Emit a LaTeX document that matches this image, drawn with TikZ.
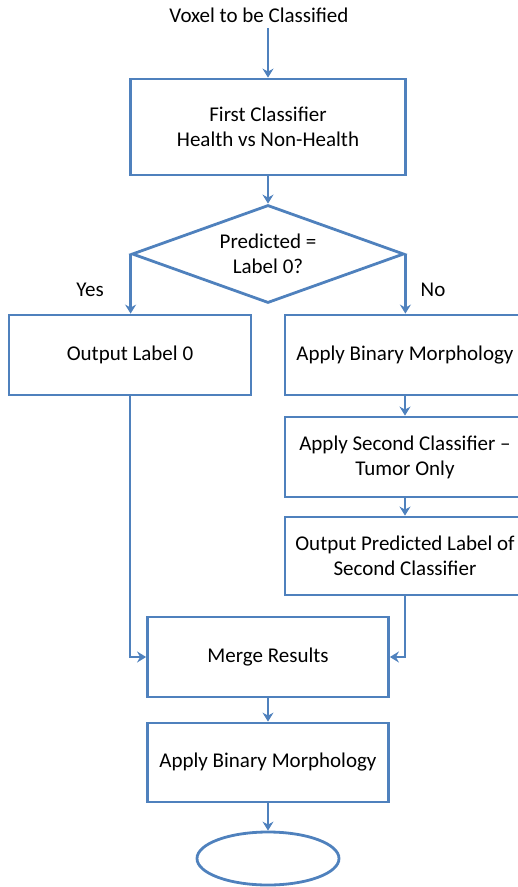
\documentclass[tikz,border=0pt]{standalone}
\usepackage{fontspec}
\setmainfont{Carlito}
\usetikzlibrary{shapes.geometric,arrows.meta}
\definecolor{flowblue}{RGB}{79,129,189}
\begin{document}
\begin{tikzpicture}[x=1pt,y=-1pt,
  txt/.style={font=\fontsize{21}{25}\selectfont,text=black},
  box/.style={txt,draw=flowblue,line width=2.8pt,rectangle,inner sep=0pt,align=center,minimum width=241pt,minimum height=80pt},
  link/.style={draw=flowblue,line width=2.8pt,-{Stealth[length=9pt,width=11pt,inset=3pt]}},
  lbl/.style={txt,inner sep=0pt}]
\useasboundingbox (0,0) rectangle (518,887);

% start text and first classifier
\node[lbl] (voxel) at (259,15) {Voxel to be Classified};
\coordinate (vtail) at (268,28);
\node[box,minimum width=275pt,minimum height=96pt] (first) at (268,127) {First Classifier\\Health vs Non-Health};

% decision
\node[txt,draw=flowblue,line width=2.8pt,diamond,aspect=2.78,minimum width=272pt,minimum height=98pt,inner sep=0pt,align=center] (dec) at (268,254) {Predicted =\\Label 0?};
\node[lbl] (yes) at (90,290) {Yes};
\node[lbl] (no) at (433,290) {No};

% left branch
\node[box,minimum width=242pt] (outlab) at (130,355) {Output Label 0};

% right branch
\node[box,minimum width=240pt] (abm1) at (405,355) {Apply Binary Morphology};
\node[box,minimum width=240pt] (second) at (405,457) {Apply Second Classifier --\\Tumor Only};
\node[box,minimum width=240pt,minimum height=78pt] (outpred) at (405,556) {Output Predicted Label of\\Second Classifier};

% merge and final steps
\node[box] (merge) at (268,657) {Merge Results};
\node[box,minimum height=79pt] (abm2) at (268,762.5) {Apply Binary Morphology};
\node[draw=flowblue,line width=2.8pt,ellipse,minimum width=142pt,minimum height=53pt,inner sep=0pt] (finish) at (268,858.5) {};

% connectors
\draw[link] (vtail) -- (first.north);
\draw[link] (first.south) -- (dec.north);
\draw[link] (dec.west) -- (dec.west |- outlab.north);
\draw[link] (dec.east) -- (dec.east |- abm1.north);
\draw[link] (abm1.south) -- (second.north);
\draw[link] (second.south) -- (outpred.north);
\draw[link] (outlab.south) |- (merge.west);
\draw[link] (outpred.south) |- (merge.east);
\draw[link] (merge.south) -- (abm2.north);
\draw[link] (abm2.south) -- (finish.north);
\end{tikzpicture}
\end{document}
